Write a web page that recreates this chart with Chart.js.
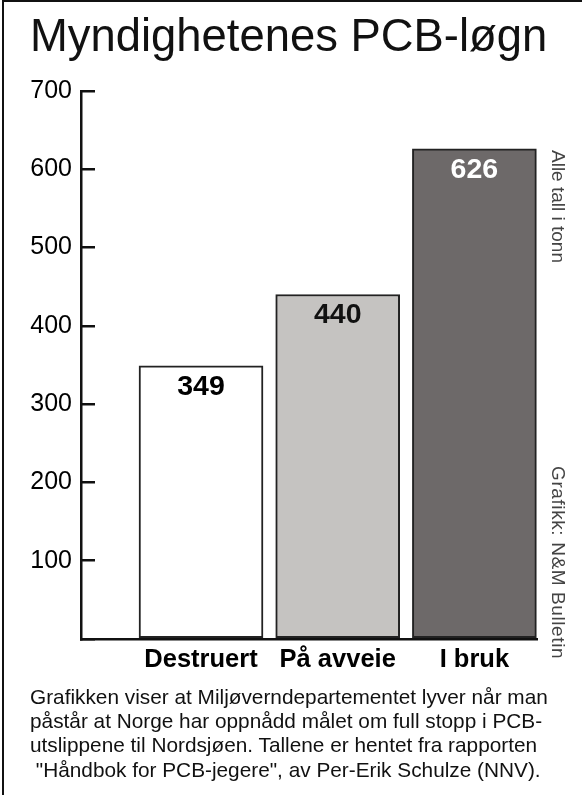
<!DOCTYPE html>
<html>
<head>
<meta charset="utf-8">
<script src="https://cdn.jsdelivr.net/npm/chart.js@4/dist/chart.umd.min.js"></script>
<style>
  html, body { margin: 0; padding: 0; background: #fff; }
  body { width: 582px; height: 795px; position: relative; overflow: hidden; font-family: "Liberation Sans", Arial, sans-serif; color: #111; }
  #frame { position: absolute; left: 2px; top: 0; width: 580px; height: 795px; border-left: 2px solid #111; border-top: 2px solid #111; box-sizing: border-box; }
  #wrap { position: absolute; left: 0; top: 0; width: 582px; height: 795px; }
  #title { position: absolute; left: 30px; top: 13px; font-size: 45.4px; line-height: 46px; white-space: nowrap; color: #111; }
  #caption { position: absolute; left: 30px; top: 685px; font-size: 20.8px; line-height: 24.2px; white-space: pre; color: #111; }
  .side { position: absolute; writing-mode: vertical-rl; font-size: 19px; line-height: 19px; color: #444; white-space: nowrap; }
</style>
</head>
<body>
<div id="wrap"><canvas id="c" width="582" height="795"></canvas></div>
<div id="frame"></div>
<div id="title">Myndighetenes PCB-løgn</div>
<div class="side" id="side1" style="left:549px; top:150px;">Alle tall i tonn</div>
<div class="side" id="side2" style="left:549px; top:466px; letter-spacing:0.6px;">Grafikk: N&amp;M Bulletin</div>
<div id="caption">Grafikken viser at Miljøverndepartementet lyver når man
påstår at Norge har oppnådd målet om full stopp i PCB-
utslippene til Nordsjøen. Tallene er hentet fra rapporten
 "Håndbok for PCB-jegere", av Per-Erik Schulze (NNV).</div>
<script>
const categories = ["Destruert", "På avveie", "I bruk"];
const values = [349, 440, 626];
const barColors = ["#ffffff", "#c5c3c1", "#6d6969"];
const labelColors = ["#000000", "#111111", "#ffffff"];
const yTicks = [0, 100, 200, 300, 400, 500, 600, 700];

const valueLabels = {
  id: 'valueLabels',
  afterDatasetsDraw(chart) {
    const ctx = chart.ctx;
    const meta = chart.getDatasetMeta(0);
    ctx.save();
    ctx.font = 'bold 28.5px "Liberation Sans", Arial, sans-serif';
    ctx.textAlign = 'center';
    ctx.textBaseline = 'middle';
    meta.data.forEach((bar, i) => {
      ctx.fillStyle = labelColors[i];
      ctx.fillText(String(values[i]), bar.x, bar.y + 21);
    });
    ctx.restore();
  }
};

new Chart(document.getElementById('c'), {
  type: 'bar',
  data: {
    datasets: [{
      data: values.map((v, i) => ({ x: i, y: v })),
      backgroundColor: barColors,
      borderColor: '#222',
      borderWidth: 2,
      borderSkipped: false,
      barThickness: 124
    }]
  },
  options: {
    responsive: false,
    animation: false,
    events: [],
    layout: { padding: { left: 0, top: 91, right: 45, bottom: 116 } },
    plugins: { legend: { display: false }, tooltip: { enabled: false }, title: { display: false } },
    scales: {
      x: {
        type: 'linear',
        position: 'bottom',
        offset: false,
        min: -0.878,
        max: 2.458,
        afterBuildTicks(scale) { scale.ticks = categories.map((c, i) => ({ value: i })); },
        afterFit(scale) { scale.height = 40; },
        grid: { display: false, drawTicks: false, offset: false },
        border: { display: true, color: '#111', width: 2.5 },
        ticks: {
          autoSkip: false,
          maxRotation: 0,
          padding: 6,
          color: '#000',
          font: { family: '"Liberation Sans", Arial, sans-serif', size: 25.5, weight: 'bold' },
          callback: (v) => categories[v] ?? ''
        }
      },
      y: {
        min: 0,
        max: 700,
        afterBuildTicks(scale) { scale.ticks = yTicks.map(v => ({ value: v })); },
        afterFit(scale) { scale.width = 81; },
        grid: { drawOnChartArea: false, drawTicks: true, tickLength: -14, color: '#111', lineWidth: 2.5 },
        border: { display: true, color: '#111', width: 2.5 },
        ticks: {
          padding: 23,
          color: '#000',
          font: { family: '"Liberation Sans", Arial, sans-serif', size: 25 },
          callback: (v) => v === 0 ? '' : String(v)
        }
      }
    }
  },
  plugins: [valueLabels]
});
</script>
</body>
</html>
